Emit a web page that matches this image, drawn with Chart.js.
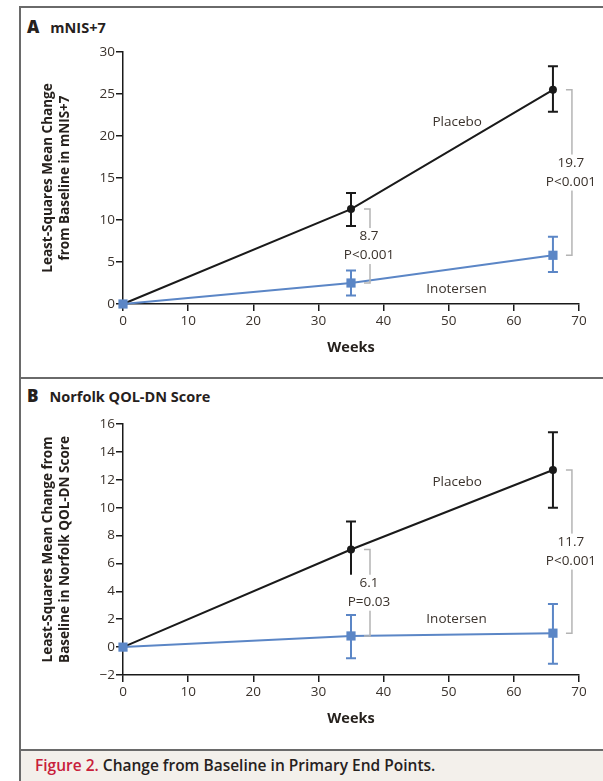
<!DOCTYPE html>
<html>
<head>
<meta charset="utf-8">
<script src="https://cdn.jsdelivr.net/npm/chart.js@4.4.0/dist/chart.umd.min.js"></script>
<style>
body{margin:0;background:#fff;width:603px;height:781px;overflow:hidden;position:relative;font-family:"Open Sans",sans-serif;color:#26211d;}
.rule{position:absolute;background:#6a6a6a;}
.panel-title{position:absolute;left:27px;font-weight:700;font-size:14.5px;line-height:18px;}
.panel-title b{font-size:17px;margin-right:11px;}
canvas{position:absolute;left:20px;}
#caption{position:absolute;left:21px;top:751px;width:582px;height:30px;background:#f3f0eb;}
#caption span{position:absolute;left:14px;top:3px;font-size:15.5px;font-weight:600;white-space:nowrap;}
#caption em{font-style:normal;color:#c8203a;}
</style>
</head>
<body>
<div class="rule" style="left:19px;top:6px;width:2px;height:775px"></div>
<div class="rule" style="left:19px;top:6px;width:584px;height:2px"></div>
<div class="rule" style="left:19px;top:377px;width:584px;height:2px"></div>
<div class="rule" style="left:19px;top:749px;width:584px;height:2px"></div>

<div class="panel-title" style="top:18px"><b>A</b>mNIS+7</div>
<div class="panel-title" style="top:387px"><b>B</b>Norfolk QOL-DN Score</div>

<canvas id="chartA" width="583" height="369" style="top:8px"></canvas>
<canvas id="chartB" width="583" height="369" style="top:380px"></canvas>

<div id="caption"><span><em>Figure 2.</em> Change from Baseline in Primary End Points.</span></div>

<script>
// weeks of assessment
const weeks = [0, 35, 66];

// A: mNIS+7, least-squares mean change (with error bar ends)
const placeboA    = [0, 11.3, 25.5];
const placeboA_lo = [0, 9.3, 22.9];
const placeboA_hi = [0, 13.2, 28.3];
const inotersenA    = [0, 2.5, 5.8];
const inotersenA_lo = [0, 1.0, 3.8];
const inotersenA_hi = [0, 4.0, 8.0];

// B: Norfolk QOL-DN
const placeboB    = [0, 7.0, 12.7];
const placeboB_lo = [0, 5.0, 10.0];
const placeboB_hi = [0, 9.0, 15.4];
const inotersenB    = [0, 0.8, 1.0];
const inotersenB_lo = [0, -0.8, -1.2];
const inotersenB_hi = [0, 2.3, 3.1];

// between-group differences
const diffWeeks = [35, 66];
const diffA = ['8.7', '19.7'];
const pA = ['P<0.001', 'P<0.001'];
const diffB = ['6.1', '11.7'];
const pB = ['P=0.03', 'P<0.001'];

const xTicks = [0, 10, 20, 30, 40, 50, 60, 70];

const BLACK = '#1a1a1a';
const BLUE = '#5b86c6';
const TEXT = '#3a322c';
const GREY = '#b4b4b4';

const toPoints = (vals) => weeks.map((w, i) => ({x: w, y: vals[i]}));

// error bars, difference brackets and series names
const extras = {
  id: 'extras',
  beforeDatasetsDraw(chart, args, opts) {
    const ctx = chart.ctx, xs = chart.scales.x, ys = chart.scales.y;
    opts.bars.forEach(b => {
      ctx.save();
      ctx.strokeStyle = b.color;
      ctx.lineWidth = 2;
      weeks.forEach((w, i) => {
        if (b.lo[i] === b.hi[i]) return;
        const px = xs.getPixelForValue(w);
        const y1 = ys.getPixelForValue(b.lo[i]);
        const y2 = ys.getPixelForValue(b.hi[i]);
        ctx.beginPath();
        ctx.moveTo(px, y1); ctx.lineTo(px, y2);
        ctx.moveTo(px - 5, y1); ctx.lineTo(px + 5, y1);
        ctx.moveTo(px - 5, y2); ctx.lineTo(px + 5, y2);
        ctx.stroke();
      });
      ctx.restore();
    });
  },
  afterDraw(chart, args, opts) {
    const ctx = chart.ctx, xs = chart.scales.x, ys = chart.scales.y;
    ctx.save();
    ctx.font = '13.5px "Open Sans"';
    ctx.textAlign = 'center';
    ctx.textBaseline = 'middle';
    diffWeeks.forEach((w, k) => {
      const i = weeks.indexOf(w);
      const px = xs.getPixelForValue(w) + 19;
      const top = ys.getPixelForValue(opts.upper[i]);
      const bot = ys.getPixelForValue(opts.lower[i]);
      ctx.strokeStyle = GREY;
      ctx.lineWidth = 1.5;
      ctx.beginPath();
      ctx.moveTo(px - 6, top); ctx.lineTo(px, top);
      ctx.lineTo(px, bot); ctx.lineTo(px - 6, bot);
      ctx.stroke();
      const mid = (top + bot) / 2;
      const lines = [opts.diff[k], opts.p[k]];
      const tw = Math.max(...lines.map(t => ctx.measureText(t).width));
      ctx.fillStyle = '#fff';
      ctx.fillRect(px - 1 - tw / 2 - 3, mid - 18, tw + 6, 36);
      ctx.fillStyle = TEXT;
      lines.forEach((t, j) => ctx.fillText(t, px - 1, mid + (j - 0.5) * 19));
    });
    opts.names.forEach(n => {
      ctx.fillStyle = TEXT;
      ctx.fillText(n.text, xs.getPixelForValue(n.x), ys.getPixelForValue(n.y));
    });
    ctx.restore();
  }
};

function makeChart(id, cfg) {
  const ctx = document.getElementById(id).getContext('2d');
  return new Chart(ctx, {
    type: 'line',
    data: {
      datasets: [
        {
          label: 'Placebo', data: toPoints(cfg.placebo), order: 2,
          borderColor: BLACK, backgroundColor: BLACK, borderWidth: 2,
          pointStyle: 'circle', pointRadius: 4, pointBorderWidth: 0, clip: false
        },
        {
          label: 'Inotersen', data: toPoints(cfg.inotersen), order: 1,
          borderColor: BLUE, backgroundColor: BLUE, borderWidth: 2,
          pointStyle: 'rect', pointRadius: 6.5, pointBorderWidth: 0, clip: false
        }
      ]
    },
    options: {
      responsive: false,
      animation: false,
      events: [],
      layout: {padding: {top: 44, right: 24, left: 0, bottom: 0}},
      plugins: {
        legend: {display: false},
        tooltip: {enabled: false},
        extras: {
          bars: [
            {lo: cfg.placeboLo, hi: cfg.placeboHi, color: BLACK},
            {lo: cfg.inotersenLo, hi: cfg.inotersenHi, color: BLUE}
          ],
          upper: cfg.placebo, lower: cfg.inotersen,
          diff: cfg.diff, p: cfg.p, names: cfg.names
        }
      },
      scales: {
        x: {
          type: 'linear', min: 0, max: 70,
          afterBuildTicks: (s) => { s.ticks = xTicks.map(v => ({value: v})); },
          afterFit: (s) => { s.height = cfg.xHeight; },
          border: {color: BLACK, width: 1.5},
          grid: {drawOnChartArea: false, tickLength: 7, color: BLACK, lineWidth: 1.5},
          ticks: {color: TEXT, font: {family: 'Open Sans', size: 13.5}, padding: 2, maxRotation: 0},
          title: {display: true, text: 'Weeks', color: '#26211d',
                  font: {family: 'Open Sans', size: 14.5, weight: 'bold'},
                  padding: {top: 0, bottom: cfg.weeksPad}}
        },
        y: {
          min: cfg.yMin, max: cfg.yMax,
          afterBuildTicks: (s) => { s.ticks = cfg.yTicks.map(v => ({value: v})); },
          afterFit: (s) => { s.width = 103; },
          border: {color: BLACK, width: 1.5},
          grid: {drawOnChartArea: false, tickLength: 7, color: BLACK, lineWidth: 1.5},
          ticks: {color: TEXT, font: {family: 'Open Sans', size: 13.5}, padding: 1,
                  callback: (v) => String(v).replace('-', '\u2212')},
          title: {display: true, text: cfg.yTitle, color: '#26211d',
                  font: {family: 'Open Sans', size: 13.5, weight: 'bold', lineHeight: 1.3},
                  padding: {top: 19, bottom: 0}}
        }
      }
    },
    plugins: [extras]
  });
}

makeChart('chartA', {
  placebo: placeboA, placeboLo: placeboA_lo, placeboHi: placeboA_hi,
  inotersen: inotersenA, inotersenLo: inotersenA_lo, inotersenHi: inotersenA_hi,
  diff: diffA, p: pA,
  names: [{text: 'Placebo', x: 51.3, y: 21.7}, {text: 'Inotersen', x: 51.2, y: 1.8}],
  yMin: 0, yMax: 30, yTicks: [0, 5, 10, 15, 20, 25, 30],
  yTitle: ['Least-Squares Mean Change', 'from Baseline in mNIS+7'],
  xHeight: 73, weeksPad: 20
});

makeChart('chartB', {
  placebo: placeboB, placeboLo: placeboB_lo, placeboHi: placeboB_hi,
  inotersen: inotersenB, inotersenLo: inotersenB_lo, inotersenHi: inotersenB_hi,
  diff: diffB, p: pB,
  names: [{text: 'Placebo', x: 51.3, y: 11.8}, {text: 'Inotersen', x: 51.2, y: 2.0}],
  yMin: -2, yMax: 16, yTicks: [-2, 0, 2, 4, 6, 8, 10, 12, 14, 16],
  yTitle: ['Least-Squares Mean Change from', 'Baseline in Norfolk QOL-DN Score'],
  xHeight: 74, weeksPad: 21
});
</script>
</body>
</html>
